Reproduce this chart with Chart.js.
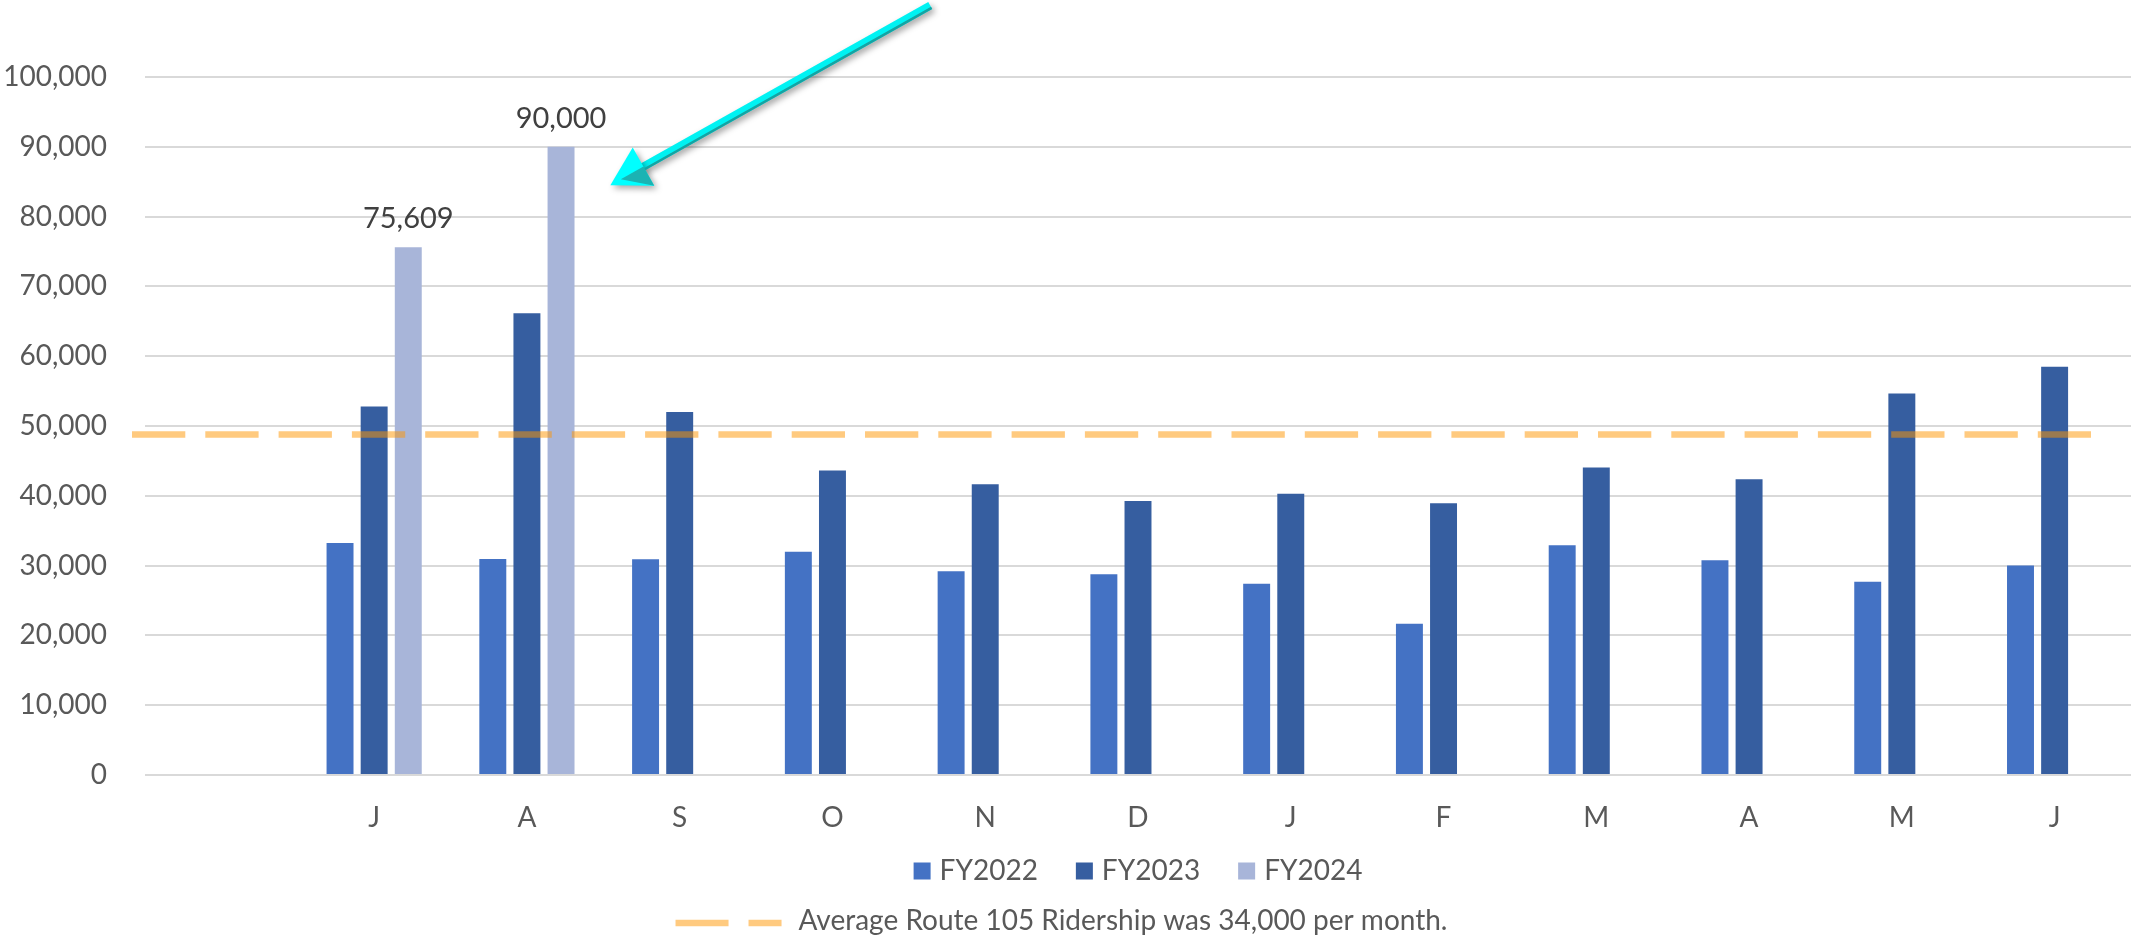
<!DOCTYPE html>
<html>
<head>
<meta charset="utf-8">
<script src="https://cdn.jsdelivr.net/npm/chart.js@4.4.1/dist/chart.umd.min.js"></script>
<style>
    html, body { margin: 0; padding: 0; background: #fff; }
    #wrap { width: 2131px; height: 938px; }
</style>
</head>
<body>
<div id="wrap"><canvas id="myChart" width="2131" height="938"></canvas></div>
<script>
// months (first slot left empty, like the original sheet)
const months = ["", "J", "A", "S", "O", "N", "D", "J", "F", "M", "A", "M", "J"];

const fy2022 = [null, 33250, 30960, 30900, 31970, 29200, 28770, 27390, 21660, 32900, 30760, 27670, 30000];
const fy2023 = [null, 52790, 66150, 51990, 43610, 41650, 39270, 40310, 38950, 44050, 42380, 54670, 58500];
const fy2024 = [null, 75609, 90000, null, null, null, null, null, null, null, null, null, null];

const yTicks = [0, 10000, 20000, 30000, 40000, 50000, 60000, 70000, 80000, 90000, 100000];

// dashed reference line (drawn at this value in the original)
const avgLineValue = 48800;
const avgLineLabel = "Average Route 105 Ridership was 34,000 per month.";

// arrow callout: [category position, value]
const arrowTail = [4.64, 110250];
const arrowTip = [2.546, 84500];

const FONT = "Lato";
const colors = ["#4472C4", "#365EA0", "#A8B5D9"];

function fmt(v) {
    return v.toLocaleString("en-US");
}

const overlay = {
    id: "overlay",
    afterDatasetsDraw(chart) {
        const ctx = chart.ctx;
        const x = chart.scales.x;
        const y = chart.scales.y;
        const area = chart.chartArea;

        // average line
        const ly = y.getPixelForValue(avgLineValue);
        ctx.save();
        ctx.strokeStyle = "rgba(255,150,0,0.5)";
        ctx.lineWidth = 6.5;
        ctx.setLineDash([53.3, 20]);
        ctx.beginPath();
        ctx.moveTo(area.left - 13, ly);
        ctx.lineTo(area.right - 40, ly);
        ctx.stroke();
        ctx.restore();

        // data labels on FY2024
        const meta = chart.getDatasetMeta(2);
        ctx.save();
        ctx.font = "29px " + FONT;
        ctx.fillStyle = "#404040";
        ctx.textAlign = "center";
        ctx.textBaseline = "alphabetic";
        meta.data.forEach(function (bar, i) {
            if (fy2024[i] == null) return;
            ctx.fillText(fmt(fy2024[i]), bar.x, bar.y - 19);
        });
        ctx.restore();

        // arrow
        const tx = x.getPixelForValue(arrowTail[0]), ty = y.getPixelForValue(arrowTail[1]);
        const px = x.getPixelForValue(arrowTip[0]), py = y.getPixelForValue(arrowTip[1]);
        let dx = px - tx, dy = py - ty;
        const len = Math.sqrt(dx * dx + dy * dy);
        dx /= len; dy /= len;
        const nx = -dy, ny = dx;
        const headLen = 38, headW = 22;
        const bx = px - dx * headLen, by = py - dy * headLen;

        ctx.save();
        ctx.shadowColor = "rgba(0,0,0,0.35)";
        ctx.shadowBlur = 6;
        ctx.shadowOffsetX = 3;
        ctx.shadowOffsetY = 3;
        ctx.strokeStyle = "#00F2F2";
        ctx.lineWidth = 8;
        ctx.beginPath();
        ctx.moveTo(tx, ty);
        ctx.lineTo(bx + dx * 6, by + dy * 6);
        ctx.stroke();
        ctx.fillStyle = "#00FFFF";
        ctx.beginPath();
        ctx.moveTo(px, py);
        ctx.lineTo(bx + nx * headW, by + ny * headW);
        ctx.lineTo(bx - nx * headW, by - ny * headW);
        ctx.closePath();
        ctx.fill();
        ctx.restore();

        ctx.save();
        // darker edge on the shaft
        ctx.strokeStyle = "#15A3A3";
        ctx.lineWidth = 2.5;
        ctx.beginPath();
        ctx.moveTo(tx - nx * 2.8, ty - ny * 2.8);
        ctx.lineTo(bx - nx * 2.8 + dx * 4, by - ny * 2.8 + dy * 4);
        ctx.stroke();
        // shaded part of the head
        ctx.fillStyle = "#1BB3B3";
        ctx.beginPath();
        ctx.moveTo(bx, by);
        ctx.lineTo(bx - nx * headW, by - ny * headW);
        ctx.lineTo(px - dx * 12, py - dy * 12);
        ctx.closePath();
        ctx.fill();
        ctx.restore();
    },
    afterDraw(chart) {
        const ctx = chart.ctx;
        const area = chart.chartArea;
        ctx.save();
        ctx.font = "28px " + FONT;
        ctx.fillStyle = "#595959";
        ctx.textBaseline = "middle";

        // row 1: bar series
        const names = ["FY2022", "FY2023", "FY2024"];
        const box = 17, gap = 9, spacing = 38;
        let total = 0;
        names.forEach(function (n, i) {
            total += box + gap + ctx.measureText(n).width + (i < names.length - 1 ? spacing : 0);
        });
        let cx = (area.left + area.right) / 2 - total / 2;
        const r1 = area.bottom + 96;
        names.forEach(function (n, i) {
            ctx.fillStyle = colors[i];
            ctx.fillRect(cx, r1 - box / 2, box, box);
            cx += box + gap;
            ctx.fillStyle = "#595959";
            ctx.fillText(n, cx, r1);
            cx += ctx.measureText(n).width + spacing;
        });

        // row 2: average line
        const sample = 106, sgap = 17;
        const w2 = sample + sgap + ctx.measureText(avgLineLabel).width;
        let x2 = chart.width / 2 - 4 - w2 / 2;
        const r2 = area.bottom + 146;
        ctx.save();
        ctx.strokeStyle = "rgba(255,150,0,0.5)";
        ctx.lineWidth = 6.5;
        ctx.setLineDash([53, 20]);
        ctx.beginPath();
        ctx.moveTo(x2, r2 + 2);
        ctx.lineTo(x2 + sample, r2 + 2);
        ctx.stroke();
        ctx.restore();
        ctx.fillStyle = "#595959";
        ctx.fillText(avgLineLabel, x2 + sample + sgap, r2);
        ctx.restore();
    }
};

const ctx = document.getElementById("myChart").getContext("2d");
const myChart = new Chart(ctx, {
    type: "bar",
    data: {
        labels: months,
        datasets: [
            { label: "FY2022", data: fy2022, backgroundColor: colors[0] },
            { label: "FY2023", data: fy2023, backgroundColor: colors[1] },
            { label: "FY2024", data: fy2024, backgroundColor: colors[2] },
        ],
    },
    options: {
        responsive: false,
        devicePixelRatio: 1,
        animation: false,
        categoryPercentage: 0.67,
        barPercentage: 0.79,
        layout: {
            padding: { top: 77, left: 3, right: 0, bottom: 104 },
        },
        plugins: {
            legend: { display: false },
            tooltip: { enabled: false },
        },
        scales: {
            x: {
                grid: { display: false },
                border: { display: false },
                afterFit: function (axis) { axis.height = 59; },
                ticks: {
                    autoSkip: false,
                    maxRotation: 0,
                    padding: 18,
                    color: "#595959",
                    font: { family: FONT, size: 28 },
                },
            },
            y: {
                min: 0,
                max: 100000,
                afterBuildTicks: function (axis) {
                    axis.ticks = yTicks.map(function (v) { return { value: v }; });
                },
                afterFit: function (axis) { axis.width = 142; },
                border: { display: false },
                grid: { color: "#D9D9D9", lineWidth: 2, drawTicks: false },
                ticks: {
                    padding: 38,
                    color: "#595959",
                    font: { family: FONT, size: 28 },
                    callback: function (v) { return fmt(v); },
                },
            },
        },
    },
    plugins: [overlay],
});
</script>
</body>
</html>
